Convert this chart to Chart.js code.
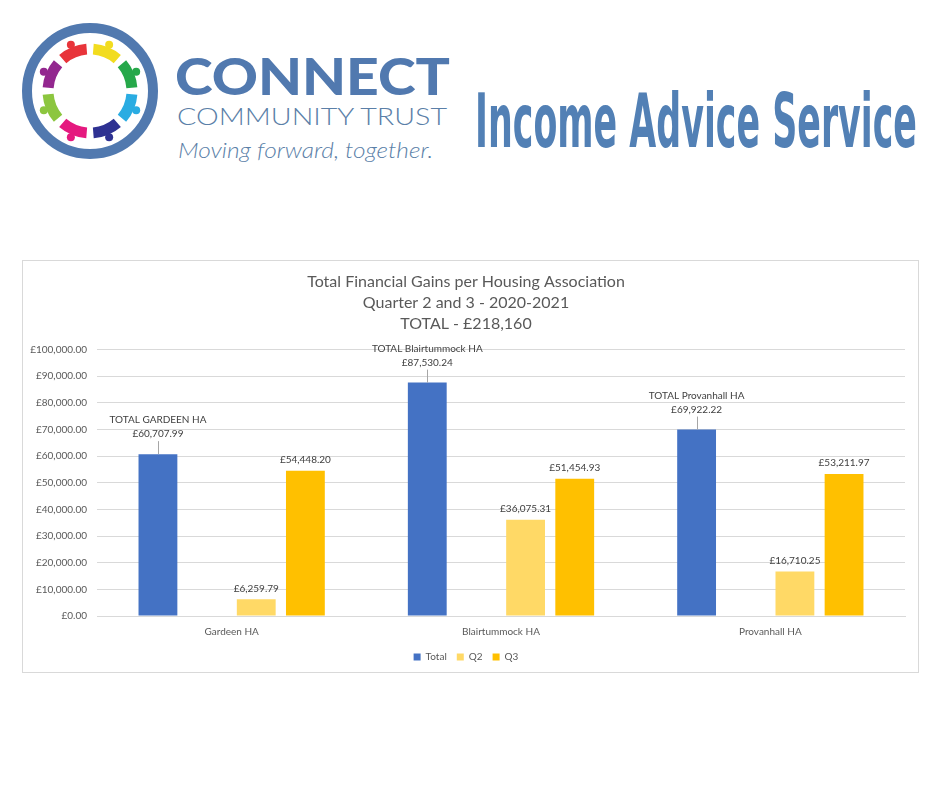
<!DOCTYPE html>
<html>
<head>
<meta charset="utf-8">
<script src="https://cdn.jsdelivr.net/npm/chart.js@4.4.0/dist/chart.umd.min.js"></script>
<style>
  html, body { margin:0; padding:0; background:#fff; }
  body { width:940px; height:788px; position:relative; overflow:hidden; font-family:Lato, sans-serif; }
  #header { position:absolute; left:0; top:0; }
  #box { position:absolute; left:22px; top:260px; width:897px; height:413px; box-sizing:border-box; border:1px solid #d9d9d9; background:#fff; }
  #wrap { position:absolute; left:23px; top:261px; width:895px; height:430px; }
</style>
</head>
<body>

<!-- logo + heading -->
<svg id="header" width="940" height="200" xmlns="http://www.w3.org/2000/svg">
  <circle cx="90" cy="91" r="63" fill="none" stroke="#5179af" stroke-width="10"/>
  <g id="ring"></g>
  <text x="175" y="95" font-family="Lato" font-weight="900" font-size="52" fill="#5179af" textLength="275" lengthAdjust="spacingAndGlyphs">CONNECT</text>
  <text x="177" y="125" font-family="Lato" font-weight="300" font-size="23" fill="#5b7fa8" textLength="270" lengthAdjust="spacingAndGlyphs">COMMUNITY TRUST</text>
  <text x="178" y="158" font-family="Lato" font-style="italic" font-weight="300" font-size="21" fill="#5b7fa8" textLength="255" lengthAdjust="spacingAndGlyphs">Moving forward, together.</text>
  <text x="475" y="147" font-family="'Liberation Sans Narrow', 'DejaVu Sans Condensed', Lato" font-weight="bold" font-size="75" fill="#5280b5" textLength="442" lengthAdjust="spacingAndGlyphs">Income Advice Service</text>
</svg>

<div id="box"></div>
<div id="wrap"><canvas id="chart"></canvas></div>

<script>
/* ── Datos ── */
const categories  = ['Gardeen HA', 'Blairtummock HA', 'Provanhall HA'];
const totalValues = [60707.99, 87530.24, 69922.22];
const blankValues = [null, null, null];          // empty slot between Total and Q2
const q2Values    = [6259.79, 36075.31, 16710.25];
const q3Values    = [54448.20, 51454.93, 53211.97];
const totalLabels = ['TOTAL GARDEEN HA', 'TOTAL Blairtummock HA', 'TOTAL Provanhall HA'];
const titleLines  = ['Total Financial Gains per Housing Association', 'Quarter 2 and 3 - 2020-2021', 'TOTAL - £218,160'];
const yMax = 100000, yStep = 10000;

const TXT = '#595959', GRID = '#d9d9d9', FONT = 'Lato, sans-serif';

/* ── Logo ring ── */
const logoColours = ['#e8343a','#f2dc1f','#26a84a','#2aace2','#2e3192','#e5197f','#8cc63f','#93278f'];
(function drawRing(){
  const g = document.getElementById('ring'), ns = 'http://www.w3.org/2000/svg';
  const cx = 90, cy = 91, r = 42;
  logoColours.forEach((col, k) => {
    const a = (-112.5 + k*45) * Math.PI/180, h = 18*Math.PI/180;
    const p = document.createElementNS(ns, 'path');
    const x1 = cx + r*Math.cos(a-h), y1 = cy + r*Math.sin(a-h);
    const x2 = cx + r*Math.cos(a+h), y2 = cy + r*Math.sin(a+h);
    p.setAttribute('d', `M${x1},${y1} A${r},${r} 0 0 1 ${x2},${y2}`);
    p.setAttribute('fill','none'); p.setAttribute('stroke',col); p.setAttribute('stroke-width','11');
    g.appendChild(p);
    const c = document.createElementNS(ns, 'circle');
    c.setAttribute('cx', cx + 50*Math.cos(a)); c.setAttribute('cy', cy + 50*Math.sin(a));
    c.setAttribute('r', 4); c.setAttribute('fill', col);
    g.appendChild(c);
  });
})();

function money(v) {
  const [i, d] = Number(v).toFixed(2).split('.');
  return '£' + i.replace(/\B(?=(\d{3})+(?!\d))/g, ',') + '.' + d;
}

/* ── Etiquetas sobre barras ── */
const barLabels = {
  id: 'barLabels',
  afterDatasetsDraw(chart) {
    const ctx = chart.ctx;
    ctx.save();
    ctx.font = '10px ' + FONT;
    ctx.fillStyle = '#404040';
    ctx.textAlign = 'center';
    ctx.textBaseline = 'middle';
    chart.data.datasets.forEach((ds, di) => {
      chart.getDatasetMeta(di).data.forEach((bar, i) => {
        const v = ds.data[i];
        if (v == null) return;
        if (di === 0) {
          const y2 = bar.y - 20, lx = Math.round(bar.x) + 0.5;
          ctx.fillText(totalLabels[i], bar.x, y2 - 14);
          ctx.fillText(money(v), bar.x, y2);
          ctx.strokeStyle = '#a6a6a6'; ctx.lineWidth = 1;
          ctx.beginPath(); ctx.moveTo(lx, y2 + 7); ctx.lineTo(lx, bar.y); ctx.stroke();
        } else {
          ctx.fillText(money(v), bar.x, bar.y - 11);
        }
      });
    });
    ctx.restore();
  }
};

new Chart(document.getElementById('chart'), {
  type: 'bar',
  data: {
    labels: categories,
    datasets: [
      { label:'Total', data:totalValues, backgroundColor:'#4472c4' },
      { label:'',      data:blankValues, backgroundColor:'rgba(0,0,0,0)' },
      { label:'Q2',    data:q2Values,    backgroundColor:'#ffd966' },
      { label:'Q3',    data:q3Values,    backgroundColor:'#ffc000' }
    ]
  },
  options: {
    responsive:true, maintainAspectRatio:false, animation:false,
    datasets: { bar: { categoryPercentage:0.73, barPercentage:0.79 } },
    layout: { padding: { top:0, right:13, bottom:19, left:4 } },
    plugins: {
      title: { display:true, text:titleLines, color:TXT, font:{ family:FONT, size:16, weight:'normal', lineHeight:1.32 }, padding:{ top:10.5, bottom:14.5 } },
      legend: { position:'bottom', labels:{ filter:it => it.text !== '', boxWidth:7, boxHeight:7, color:TXT, font:{ family:FONT, size:10 }, padding:10 } },
      tooltip: { enabled:false }
    },
    scales: {
      x: {
        grid: { display:false, drawTicks:false },
        border: { color:GRID },
        ticks: { color:TXT, font:{ family:FONT, size:10 }, padding:10 },
        afterFit(s) { s.height = 26; }
      },
      y: {
        min:0, max:yMax,
        grid: { color:GRID, drawTicks:false },
        border: { display:false },
        ticks: { stepSize:yStep, color:TXT, font:{ family:FONT, size:10 }, padding:10, callback:v => money(v) },
        afterFit(s) { s.width = 70; }
      }
    }
  },
  plugins: [barLabels]
});
</script>
</body>
</html>
